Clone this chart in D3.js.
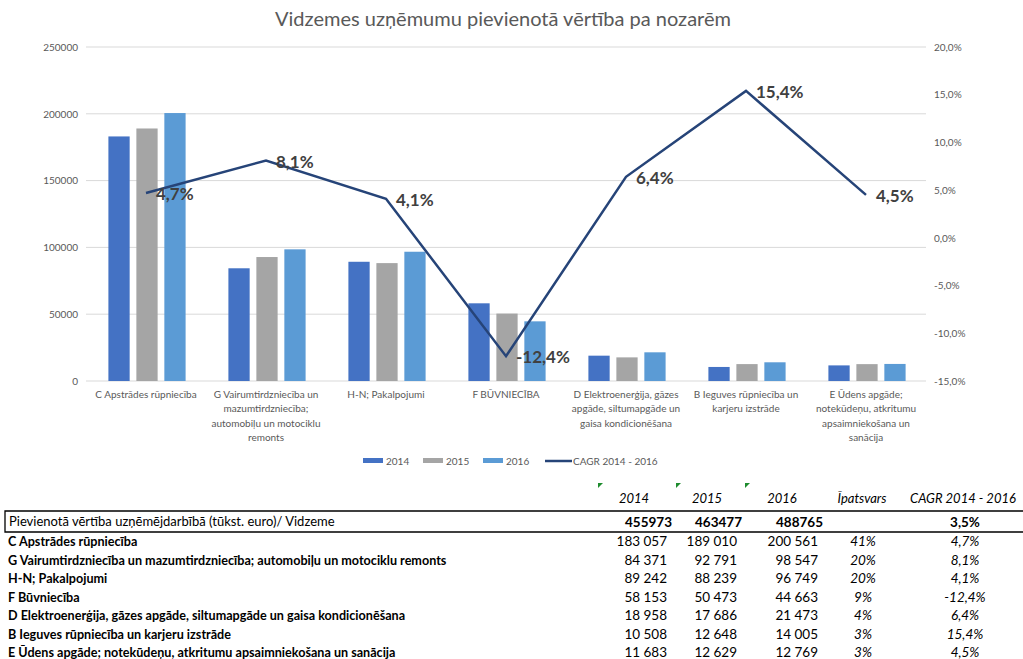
<!DOCTYPE html>
<html>
<head>
<meta charset="utf-8">
<script src="https://cdn.jsdelivr.net/npm/d3@7"></script>
<style>
  body { margin: 0; background: #ffffff; }
  svg { display: block; font-family: Lato, "Open Sans", sans-serif; }
</style>
</head>
<body>
<svg id="chart" width="1023" height="659"></svg>
<script>
// chart categories (axis labels, wrapped as in the original)
var chartLabels = [
  "C Apstrādes rūpniecība",
  "G Vairumtirdzniecība un\nmazumtirdzniecība;\nautomobiļu un motociklu\nremonts",
  "H-N; Pakalpojumi",
  "F BŪVNIECĪBA",
  "D Elektroenerģija, gāzes\napgāde, siltumapgāde un\ngaisa kondicionēšana",
  "B Ieguves rūpniecība un\nkarjeru izstrāde",
  "E Ūdens apgāde;\nnotekūdeņu, atkritumu\napsaimniekošana un\nsanācija"
];
var tableLabels = [
  "C Apstrādes rūpniecība",
  "G Vairumtirdzniecība un mazumtirdzniecība; automobiļu un motociklu remonts",
  "H-N; Pakalpojumi",
  "F Būvniecība",
  "D Elektroenerģija, gāzes apgāde, siltumapgāde un gaisa kondicionēšana",
  "B Ieguves rūpniecība un karjeru izstrāde",
  "E Ūdens apgāde; notekūdeņu, atkritumu apsaimniekošana un sanācija"
];
var years = ["2014", "2015", "2016"];
var v2014 = [183057, 84371, 89242, 58153, 18958, 10508, 11683];
var v2015 = [189010, 92791, 88239, 50473, 17686, 12648, 12629];
var v2016 = [200561, 98547, 96749, 44663, 21473, 14005, 12769];
var cagr = [4.7, 8.1, 4.1, -12.4, 6.4, 15.4, 4.5];
var share = [41, 20, 20, 9, 4, 3, 3];
var totals = [455973, 463477, 488765];
var totalCagr = 3.5;
var leftTicks = [0, 50000, 100000, 150000, 200000, 250000];
var rightTicks = [-15, -10, -5, 0, 5, 10, 15, 20];

var colors = ["#4472C4", "#A5A5A5", "#5B9BD5"];
var lineColor = "#264478";
var series = [v2014, v2015, v2016];

var lv = d3.formatLocale({ decimal: ",", thousands: " ", grouping: [3], currency: ["", ""], minus: "-" });
var fmtNum = lv.format(",d");
var fmtPct = lv.format(".1f");

var svg = d3.select("#chart");

// title
svg.append("text")
  .attr("x", 503).attr("y", 26)
  .attr("text-anchor", "middle")
  .style("font-size", "20px")
  .style("fill", "#595959")
  .text("Vidzemes uzņēmumu pievienotā vērtība pa nozarēm");

var plotTop = 47, plotBottom = 381, plotLeft = 86, plotRight = 926;

var x = d3.scaleBand().domain(d3.range(chartLabels.length)).range([plotLeft, plotRight]);
var xs = d3.scaleBand().domain([0, 1, 2]).range([-39, 41]).paddingInner(0.24).paddingOuter(0.05);
var y = d3.scaleLinear().domain([0, 250000]).range([plotBottom, plotTop]);
var y2 = d3.scaleLinear().domain([-15, 20]).range([plotBottom, plotTop]);

// gridlines
svg.append("g").selectAll("line")
  .data(leftTicks)
  .enter().append("line")
    .attr("x1", plotLeft).attr("x2", plotRight)
    .attr("y1", function(d) { return y(d); })
    .attr("y2", function(d) { return y(d); })
    .style("stroke", "#D9D9D9")
    .style("stroke-width", 1);

// left axis
var yAxis = d3.axisLeft(y).tickValues(leftTicks).tickSize(0).tickPadding(0).tickFormat(d3.format("d"));
var gy = svg.append("g").attr("transform", "translate(78,0)").call(yAxis);
gy.select(".domain").remove();
gy.selectAll("text").style("font-size", "10px").style("fill", "#595959").style("font-family", "Lato");

// right axis
var y2Axis = d3.axisRight(y2).tickValues(rightTicks).tickSize(0).tickPadding(0)
  .tickFormat(function(d) { return fmtPct(d) + "%"; });
var gy2 = svg.append("g").attr("transform", "translate(934,0)").call(y2Axis);
gy2.select(".domain").remove();
gy2.selectAll("text").style("font-size", "10px").style("fill", "#595959").style("font-family", "Lato");

// bars
var groups = svg.append("g").selectAll("g")
  .data(chartLabels.map(function(c, i) { return i; }))
  .enter().append("g")
    .attr("transform", function(i) { return "translate(" + (x(i) + x.bandwidth() / 2) + ",0)"; });

groups.selectAll("rect")
  .data(function(i) { return series.map(function(s, k) { return { k: k, v: s[i] }; }); })
  .enter().append("rect")
    .attr("x", function(d) { return xs(d.k); })
    .attr("width", xs.bandwidth())
    .attr("y", function(d) { return y(d.v); })
    .attr("height", function(d) { return y(0) - y(d.v); })
    .style("fill", function(d) { return colors[d.k]; });

// category labels
var catLabels = svg.append("g").selectAll("text")
  .data(chartLabels)
  .enter().append("text")
    .attr("x", function(d, i) { return x(i) + x.bandwidth() / 2; })
    .attr("y", 398)
    .attr("text-anchor", "middle")
    .style("font-size", "10px")
    .style("fill", "#595959");
catLabels.each(function(d) {
  var t = d3.select(this);
  d.split("\n").forEach(function(ln, j) {
    t.append("tspan")
      .attr("x", t.attr("x"))
      .attr("dy", j === 0 ? 0 : 14.3)
      .text(ln);
  });
});

// CAGR line
var cagrLine = d3.line()
  .x(function(d, i) { return x(i) + x.bandwidth() / 2; })
  .y(function(d) { return y2(d); });
svg.append("path")
  .datum(cagr)
  .attr("d", cagrLine)
  .style("fill", "none")
  .style("stroke", lineColor)
  .style("stroke-width", 2.5)
  .style("stroke-linejoin", "miter");

svg.append("g").selectAll("text")
  .data(cagr)
  .enter().append("text")
    .attr("x", function(d, i) { return x(i) + x.bandwidth() / 2 + 10; })
    .attr("y", function(d) { return y2(d) + 7; })
    .style("font-size", "17px")
    .style("font-weight", "bold")
    .style("fill", "#404040")
    .text(function(d) { return fmtPct(d) + "%"; });

// legend
var legend = svg.append("g").attr("transform", "translate(0,461)");
years.forEach(function(yr, k) {
  legend.append("rect")
    .attr("x", 363 + k * 60).attr("y", -3)
    .attr("width", 20).attr("height", 5)
    .style("fill", colors[k]);
  legend.append("text")
    .attr("x", 386 + k * 60).attr("y", 4)
    .style("font-size", "10px").style("fill", "#595959")
    .text(yr);
});
legend.append("line")
  .attr("x1", 545).attr("x2", 572).attr("y1", 0).attr("y2", 0)
  .style("stroke", lineColor).style("stroke-width", 2.5);
legend.append("text")
  .attr("x", 573).attr("y", 4)
  .style("font-size", "10px").style("fill", "#595959")
  .text("CAGR 2014 - 2016");

// ---------- table below ----------
var tbl = svg.append("g").style("fill", "#000000");
var headerX = [634, 707, 782, 862, 963];
var headers = years.concat(["Īpatsvars", "CAGR 2014 - 2016"]);
tbl.selectAll("text.hdr")
  .data(headers)
  .enter().append("text")
    .attr("class", "hdr")
    .attr("x", function(d, i) { return headerX[i]; })
    .attr("y", 503)
    .attr("text-anchor", "middle")
    .style("font-size", "13px")
    .style("font-style", "italic")
    .text(function(d) { return d; });

// small green corner markers
[598, 676, 745].forEach(function(gx) {
  tbl.append("path")
    .attr("d", "M" + gx + ",483 l5,0 l-5,5 z")
    .style("fill", "#1E8C2E");
});

// total row box
tbl.append("path")
  .attr("d", "M1023,511 L5,511 L5,532 L1023,532")
  .style("fill", "none").style("stroke", "#000000").style("stroke-width", 1.3);
tbl.append("text")
  .attr("x", 9).attr("y", 526)
  .style("font-size", "13px")
  .text("Pievienotā vērtība uzņēmējdarbībā (tūkst. euro)/ Vidzeme");
var totalX = [672, 742, 823];
tbl.selectAll("text.tot")
  .data(totals)
  .enter().append("text")
    .attr("class", "tot")
    .attr("x", function(d, i) { return totalX[i]; })
    .attr("y", 527)
    .attr("text-anchor", "end")
    .style("font-size", "13.5px").style("font-weight", "bold")
    .text(function(d) { return d; });
tbl.append("text")
  .attr("x", 965).attr("y", 527).attr("text-anchor", "middle")
  .style("font-size", "13.5px").style("font-weight", "bold")
  .text(fmtPct(totalCagr) + "%");

var rowY = d3.scaleLinear().domain([0, 6]).range([546, 657]);
var rows = tbl.selectAll("g.row")
  .data(tableLabels.map(function(d, i) { return i; }))
  .enter().append("g")
    .attr("class", "row")
    .attr("transform", function(i) { return "translate(0," + rowY(i) + ")"; });
rows.append("text")
  .attr("x", 8)
  .style("font-size", "12.6px").style("font-weight", "bold")
  .text(function(i) { return tableLabels[i]; });
var colX = [667, 737, 818];
series.forEach(function(s, k) {
  rows.append("text")
    .attr("x", colX[k])
    .attr("text-anchor", "end")
    .style("font-size", "13.5px")
    .text(function(i) { return fmtNum(s[i]); });
});
rows.append("text")
  .attr("x", 863).attr("text-anchor", "middle")
  .style("font-size", "13.5px").style("font-style", "italic")
  .text(function(i) { return share[i] + "%"; });
rows.append("text")
  .attr("x", 965).attr("text-anchor", "middle")
  .style("font-size", "13.5px").style("font-style", "italic")
  .text(function(i) { return fmtPct(cagr[i]) + "%"; });
</script>
</body>
</html>
